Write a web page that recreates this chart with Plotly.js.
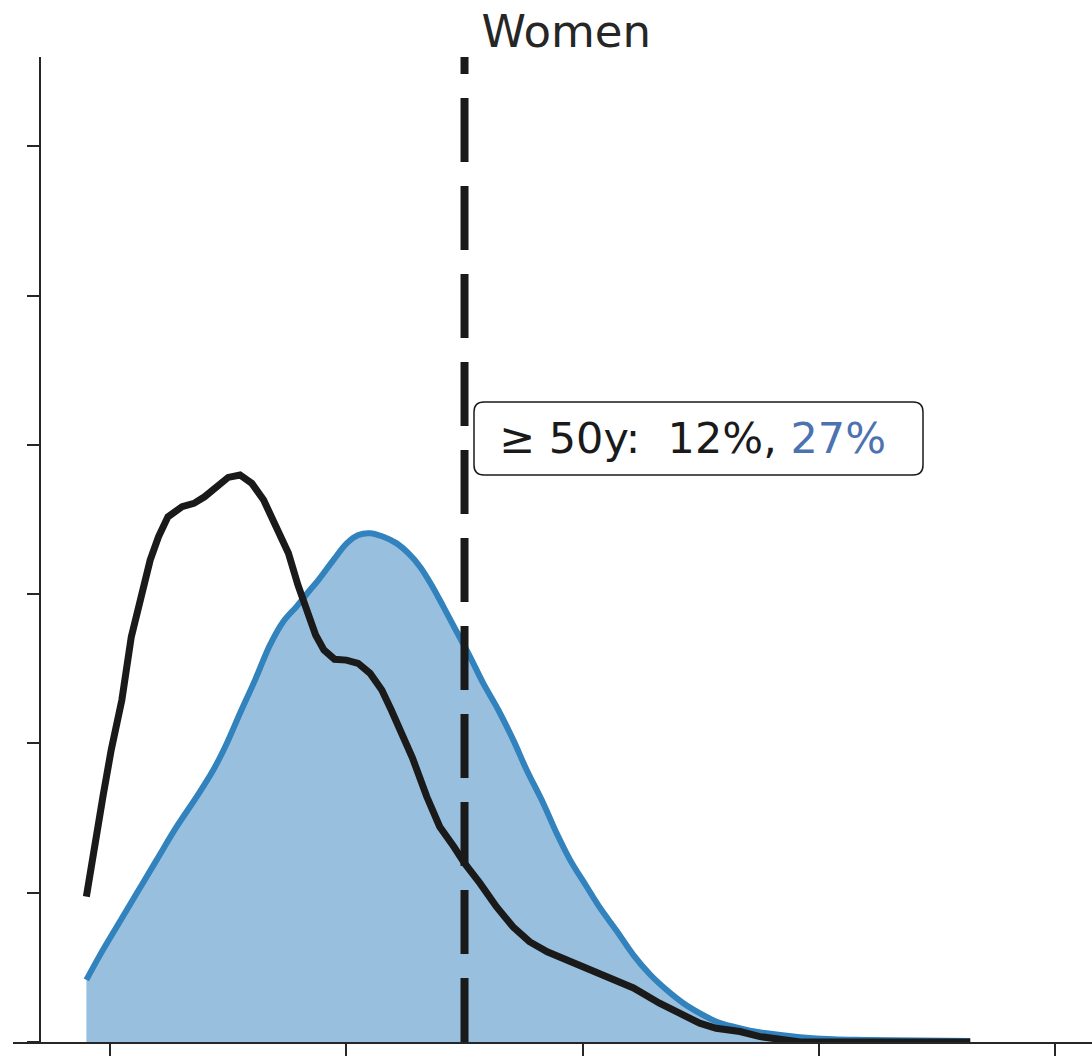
<!DOCTYPE html>
<html>
<head>
<meta charset="utf-8">
<script src="https://cdn.plot.ly/plotly-3.0.1.min.js"></script>
<style>html,body{margin:0;padding:0;background:#fff;}#chart{width:1092px;height:1059px;}</style>
</head>
<body>
<div id="chart"></div>
<script>
// Age (years) and density (% per year)
const blackAge = [18.0,18.7,19.4,20.1,21.0,21.8,22.7,23.4,24.1,24.9,26.1,27.1,28.0,29.0,30.0,31.0,32.0,33.0,34.1,35.1,35.9,36.7,37.4,38.1,39.0,40.0,41.0,42.0,43.0,43.8,44.7,45.6,46.8,47.9,49.1,50.0,51.3,52.7,54.1,55.5,57.0,58.7,60.6,62.6,64.3,66.5,68.5,69.9,71.3,73.3,75.0,76.7,78.4,81.2,86.9,92.8];
const blackDensity = [0.487,0.665,0.822,0.978,1.145,1.357,1.514,1.614,1.692,1.759,1.793,1.804,1.826,1.860,1.891,1.899,1.871,1.815,1.726,1.637,1.531,1.436,1.363,1.313,1.282,1.279,1.268,1.235,1.179,1.112,1.038,0.951,0.822,0.721,0.654,0.599,0.532,0.453,0.386,0.336,0.302,0.275,0.241,0.213,0.181,0.130,0.090,0.063,0.046,0.035,0.018,0.007,0.000,0.000,0.000,0.000];

const blueAge = [18.0,19.15,20.57,22.26,23.95,25.64,27.34,28.74,29.88,31.0,32.27,33.54,34.64,35.82,36.92,37.63,38.90,40.03,41.01,42.0,43.13,44.26,45.24,46.23,47.22,48.21,49.34,50.47,51.59,52.86,54.13,55.26,56.67,57.80,58.93,60.34,61.47,62.88,64.28,65.70,67.11,68.52,69.93,71.34,72.75,74.16,75.57,78.39,81.21,84.03,92.78];
const blueDensity = [0.208,0.291,0.386,0.498,0.610,0.721,0.822,0.911,1.000,1.101,1.212,1.330,1.407,1.460,1.514,1.547,1.614,1.670,1.698,1.704,1.692,1.670,1.637,1.592,1.530,1.458,1.374,1.290,1.201,1.112,1.011,0.911,0.799,0.699,0.610,0.520,0.449,0.372,0.292,0.226,0.174,0.130,0.096,0.068,0.051,0.038,0.029,0.016,0.009,0.007,0.003];

const xTicks = [20,40,60,80,100];
const yTicks = [0,0.5,1.0,1.5,2.0,2.5,3.0];
const cutoffAge = 50;
const titleText = 'Women';
const labelPrefix = '≥\u00a050y:\u00a0\u00a012%,\u00a0';
const labelBlue = '27%';

const W = 1092, H = 1059;
const M = {l:13, r:0, t:57, b:17};
const PW = W - M.l - M.r, PH = H - M.t - M.b;
const px = x => (x - M.l) / PW;
const py = y => (H - M.b - y) / PH;

function roundRect(x0, y0, x1, y1, r) {
  const X = v => px(v).toFixed(5), Y = v => py(v).toFixed(5);
  return 'M' + X(x0 + r) + ',' + Y(y0) +
    ' L' + X(x1 - r) + ',' + Y(y0) +
    ' Q' + X(x1) + ',' + Y(y0) + ' ' + X(x1) + ',' + Y(y0 + r) +
    ' L' + X(x1) + ',' + Y(y1 - r) +
    ' Q' + X(x1) + ',' + Y(y1) + ' ' + X(x1 - r) + ',' + Y(y1) +
    ' L' + X(x0 + r) + ',' + Y(y1) +
    ' Q' + X(x0) + ',' + Y(y1) + ' ' + X(x0) + ',' + Y(y1 - r) +
    ' L' + X(x0) + ',' + Y(y0 + r) +
    ' Q' + X(x0) + ',' + Y(y0) + ' ' + X(x0 + r) + ',' + Y(y0) + ' Z';
}

const traces = [
  {x: blueAge, y: blueDensity, type:'scatter', mode:'lines', fill:'tozeroy',
   fillcolor:'rgba(49,130,189,0.5)', line:{color:'#3182bd', width:6, shape:'spline', smoothing:1.0},
   hoverinfo:'skip', showlegend:false},
  {x: blackAge, y: blackDensity, type:'scatter', mode:'lines',
   line:{color:'#1a1a1a', width:7}, hoverinfo:'skip', showlegend:false}
];

const axisCommon = {showgrid:false, zeroline:false, showline:true, linecolor:'#262626', linewidth:2,
  ticks:'outside', ticklen:12, tickwidth:2, tickcolor:'#262626', showticklabels:false};

const layout = {
  width: W, height: H,
  margin: M,
  paper_bgcolor:'#fff', plot_bgcolor:'#fff',
  font:{family:'DejaVu Sans, sans-serif', color:'#262626'},
  title:{text:titleText, x:560/W, xanchor:'center', xref:'paper', y:1-31/H, yanchor:'middle', yref:'container',
         font:{size:45, color:'#262626', family:'DejaVu Sans, sans-serif'}},
  xaxis: Object.assign({}, axisCommon, {range:[11.79,103.1], tickvals:xTicks, domain:[0,1]}),
  yaxis: Object.assign({}, axisCommon, {range:[0,3.299], tickvals:yTicks, anchor:'free', position:(40-M.l)/PW}),
  shapes: [
    {type:'line', xref:'x', yref:'paper', x0:cutoffAge, x1:cutoffAge, y0:0, y1:1, layer:'above',
     line:{color:'#1a1a1a', width:8, dash:'64px,24px'}},
    {type:'path', xref:'paper', yref:'paper', path: roundRect(474, 402, 923, 475, 10), layer:'above',
     fillcolor:'#ffffff', line:{color:'#1a1a1a', width:1.5}}
  ],
  annotations: [
    {xref:'paper', yref:'paper', x:px(692.5), y:py(438), xanchor:'center', yanchor:'middle', showarrow:false,
     text: labelPrefix + '<span style="color:#4c72b0">' + labelBlue + '</span>',
     font:{size:43, color:'#1a1a1a', family:'DejaVu Sans, sans-serif'}}
  ]
};

Plotly.newPlot('chart', traces, layout, {staticPlot:true, displayModeBar:false});
</script>
</body>
</html>
